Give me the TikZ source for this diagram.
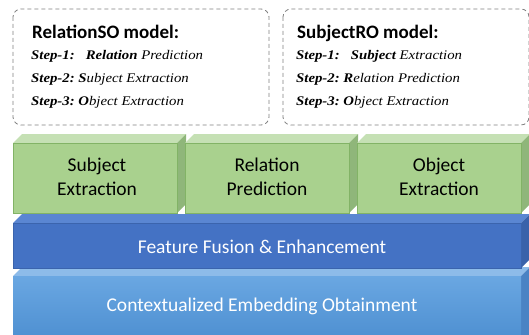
\documentclass[tikz,border=0pt]{standalone}
\usepackage{fontspec}
\setmainfont{Carlito}
\newfontfamily\stepfont[FakeStretch=1.12]{Liberation Serif}
\usetikzlibrary{positioning}

\definecolor{taskfront}{HTML}{A9D18E}
\definecolor{tasktop}{HTML}{C5E0B4}
\definecolor{taskside}{HTML}{8FB67A}
\definecolor{taskedge}{HTML}{82B366}
\definecolor{fusefront}{HTML}{4472C4}
\definecolor{fusetop}{HTML}{5A86D2}
\definecolor{fuseside}{HTML}{3A62AA}
\definecolor{fuseedge}{HTML}{3B64AD}
\definecolor{embtop}{HTML}{8DBBE9}
\definecolor{embhigh}{HTML}{6AA7E2}
\definecolor{emblow}{HTML}{4C8ED0}
\definecolor{embside}{HTML}{4A83C4}

% front face (#1,#2)--(#3,#4), then fill of front, top and side
\newcommand{\cuboid}[7]{%
    \fill [#6] (#1,#2) -- ++(9,-9) -- (#3+9,#2-9) -- (#3,#2) -- cycle;
    \fill [#7] (#3,#2) -- (#3+9,#2-9) -- (#3+9,#4-9) -- (#3,#4) -- cycle;
    \path [#5] (#1,#2) rectangle (#3,#4);
}

\tikzstyle{model} = [draw=black!50, dash pattern=on 4pt off 3pt, rounded corners=8pt, line width=0.8pt]
\tikzstyle{title} = [anchor=base west, inner sep=0pt, font=\bfseries\fontsize{19}{22}\selectfont]
\tikzstyle{stepline} = [anchor=base west, inner sep=0pt, font=\stepfont\itshape\fontsize{13.2}{15}\selectfont]
\tikzstyle{task} = [align=center, font=\fontsize{19.5}{24}\selectfont]
\tikzstyle{layer} = [text=white, font=\fontsize{19.5}{24}\selectfont]

\begin{document}
\begin{tikzpicture}[x=1pt, y=-1pt]
    \useasboundingbox (0, 0) rectangle (529, 334);

    % Decoding orders.
    \draw [model] (13, 9) rectangle (269, 125);
    \draw [model] (283, 9) rectangle (529, 125);

    \node (rso) [title] at (32, 39) {RelationSO model:};
    \node (rso 1) [stepline] at (31, 60) {\textbf{Step-1:}\ \ \ \textbf{Relation} Prediction};
    \node (rso 2) [stepline] at (31, 83) {\textbf{Step-2:}\ \textbf{S}ubject Extraction};
    \node (rso 3) [stepline] at (31, 106) {\textbf{Step-3:}\ \textbf{O}bject Extraction};

    \node (sro) [title] at (297, 39) {SubjectRO model:};
    \node (sro 1) [stepline] at (296, 60) {\textbf{Step-1:}\ \ \ \textbf{Subject} Extraction};
    \node (sro 2) [stepline] at (296, 83) {\textbf{Step-2:}\ \textbf{R}elation Prediction};
    \node (sro 3) [stepline] at (296, 106) {\textbf{Step-3:}\ \textbf{O}bject Extraction};

    % Embedding layer.
    \cuboid{13}{276}{521}{343}{top color=embhigh, bottom color=emblow}{embtop}{embside}
    \node (embed) [layer] at (262, 306) {Contextualized Embedding Obtainment};

    % Fusion layer.
    \cuboid{13}{223}{521}{268}{fill=fusefront, draw=fuseedge, line width=0.6pt}{fusetop}{fuseside}
    \node (fusion) [layer] at (262, 247) {Feature Fusion \& Enhancement};

    % Extraction tasks.
    \foreach \x in {13, 185, 357} {
        \cuboid{\x}{143}{\x+164}{213}{fill=taskfront, draw=taskedge, line width=0.6pt}{tasktop}{taskside}
    }

    \node (subj) [task] at (97, 177) {Subject\\Extraction};
    \node (rel) [task] at (267, 177) {Relation\\Prediction};
    \node (obj) [task] at (439, 177) {Object\\Extraction};
\end{tikzpicture}
\end{document}
